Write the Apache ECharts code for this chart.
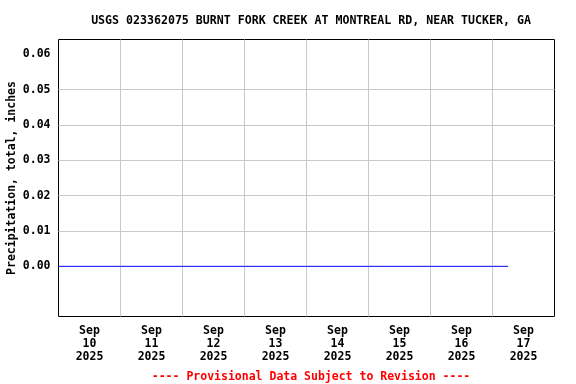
<!DOCTYPE html>
<html lang="en">
<head>
    <meta charset="UTF-8">
    <title>USGS 023362075</title>
    <script type="text/javascript" src="https://cdn.jsdelivr.net/npm/echarts@6/dist/echarts.min.js"></script>
    <style>
        html, body { margin: 0; padding: 0; background: #fff; }
        #main { width: 576px; height: 384px; }
    </style>
</head>
<body>
<div id="main"></div>
<script>
    // day labels (centred on each day) and y tick values
    const dayLabels = ['Sep\n10\n2025', 'Sep\n11\n2025', 'Sep\n12\n2025', 'Sep\n13\n2025',
                       'Sep\n14\n2025', 'Sep\n15\n2025', 'Sep\n16\n2025', 'Sep\n17\n2025'];
    const yTicks = [0, 0.01, 0.02, 0.03, 0.04, 0.05, 0.06];

    // precipitation series (all zero over the period)
    const times = ['2025-09-10 00:00', '2025-09-11 00:00', '2025-09-12 00:00', '2025-09-13 00:00',
                   '2025-09-14 00:00', '2025-09-15 00:00', '2025-09-16 00:00', '2025-09-17 00:00',
                   '2025-09-17 06:00'];
    const precip = [0, 0, 0, 0, 0, 0, 0, 0, 0];

    const font = 'DejaVu Sans Mono';
    const chart = echarts.init(document.getElementById('main'));

    chart.setOption({
        animation: false,
        title: [{
            text: 'USGS 023362075 BURNT FORK CREEK AT MONTREAL RD, NEAR TUCKER, GA',
            left: 306, top: 10, textAlign: 'center',
            textStyle: { fontFamily: font, fontSize: 11.6, fontWeight: 'bold', color: '#000' }
        }, {
            text: '---- Provisional Data Subject to Revision ----',
            left: 306, top: 366, textAlign: 'center',
            textStyle: { fontFamily: font, fontSize: 11.5, fontWeight: 'bold', color: '#ff0000' }
        }],
        grid: {
            left: 58.5, right: 21.5, top: 39.5, bottom: 67.5,
            outerBoundsMode: 'none',
            show: true, borderColor: '#000', borderWidth: 1, backgroundColor: 'transparent'
        },
        xAxis: [{
            type: 'category',
            data: dayLabels,
            boundaryGap: true,
            axisLine: { show: false },
            axisTick: { show: false },
            splitLine: {
                show: true, showMinLine: false, showMaxLine: false,
                lineStyle: { color: '#c8c8c8', width: 1 }
            },
            axisLabel: {
                margin: 8, lineHeight: 13, color: '#000',
                fontFamily: font, fontSize: 11.5, fontWeight: 'bold', interval: 0
            }
        }, {
            type: 'time',
            min: '2025-09-10 00:00',
            max: '2025-09-18 00:00',
            show: false
        }],
        yAxis: {
            type: 'value',
            min: -0.0142,
            max: 0.0642,
            name: 'Precipitation, total, inches',
            nameLocation: 'middle',
            nameGap: 40,
            nameMoveOverlap: false,
            nameTextStyle: { fontFamily: font, fontSize: 11.5, fontWeight: 'bold', color: '#000' },
            axisLine: { show: false },
            axisTick: { show: false, customValues: yTicks },
            axisLabel: {
                customValues: yTicks, margin: 8, color: '#000',
                fontFamily: font, fontSize: 11.5, fontWeight: 'bold',
                formatter: v => v.toFixed(2)
            },
            splitLine: {
                show: true, showMinLine: false, showMaxLine: false,
                lineStyle: { color: '#c8c8c8', width: 1 }
            }
        },
        series: [{
            type: 'line',
            xAxisIndex: 1,
            data: times.map((t, i) => [t, precip[i]]),
            showSymbol: false,
            lineStyle: { color: '#0000ff', width: 1 }
        }]
    });
</script>
</body>
</html>
